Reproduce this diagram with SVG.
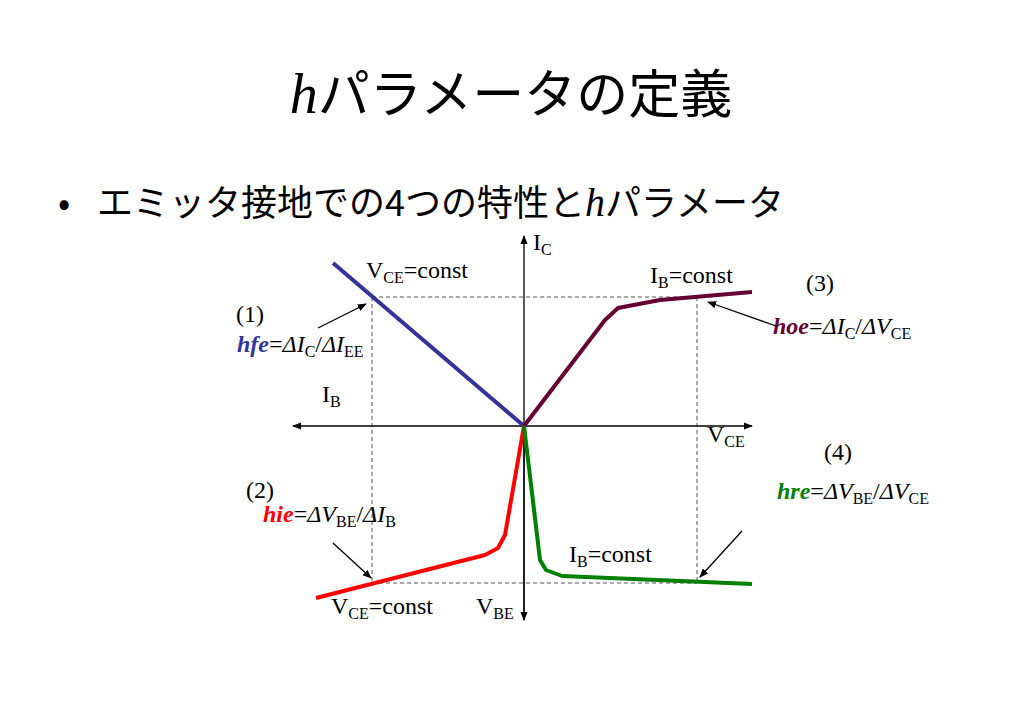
<svg xmlns="http://www.w3.org/2000/svg" width="1023" height="708" viewBox="0 0 1023 708">
<defs>
<marker id="ar" viewBox="0 0 10 10" refX="9" refY="5" markerWidth="7" markerHeight="7" orient="auto-start-reverse"><path d="M0,1 L10,5 L0,9 z" fill="#000"/></marker>
<style>
.jp{font-family:"Noto Sans CJK JP","Noto Sans",sans-serif;fill:#000}
.h{font-family:"Liberation Serif",serif;font-style:italic}
.t{font-family:"Liberation Serif",serif;font-size:24px;fill:#000}
.s{font-size:16px}
.d{stroke:#555;stroke-width:1;stroke-dasharray:4,3;fill:none}
.c{fill:none;stroke-width:4;stroke-linejoin:round}
.a{stroke:#000;stroke-width:1.3;fill:none}
</style>
</defs>
<rect width="1023" height="708" fill="#fff"/>
<g id="title"><text x="511" y="113" text-anchor="middle" class="jp" font-size="52"><tspan class="h" font-size="56">h</tspan>パラメータの定義</text></g>
<g id="bullet"><text x="58" y="216" class="jp" font-size="36">•</text><text x="97" y="216" class="jp" font-size="36">エミッタ接地での4つの特性と<tspan class="h" font-size="40">h</tspan>パラメータ</text></g>
<g id="guides">
<path class="d" d="M372,297 H700 M372,297 V583 M697,297 V583 M372,583 H697"/>
</g>
<g id="connectors">
<line class="a" x1="524" y1="620" x2="524" y2="236" marker-end="url(#ar)"/>
<line class="a" x1="524" y1="426" x2="524" y2="620" marker-end="url(#ar)"/>
<line class="a" x1="293" y1="426" x2="752" y2="426" marker-start="url(#ar)" marker-end="url(#ar)"/>
<line class="a" x1="318" y1="328" x2="366" y2="304" marker-end="url(#ar)"/>
<line class="a" x1="776" y1="326" x2="708" y2="302" marker-end="url(#ar)"/>
<line class="a" x1="333" y1="543" x2="371" y2="578" marker-end="url(#ar)"/>
<line class="a" x1="742" y1="531" x2="700" y2="577" marker-end="url(#ar)"/>
</g>
<g id="curves">
<polyline class="c" stroke="#333399" points="333,263 524,426"/>
<polyline class="c" stroke="#660033" points="524,426 605,320 618,308 660,300 752,292"/>
<polyline class="c" stroke="#ff0000" points="316,598 485,555 498,548 505,535 524,426"/>
<polyline class="c" stroke="#008000" points="524,426 540,560 546,570 562,576 752,584"/>
</g>
<g id="labels">
<text class="t" x="533" y="250">I<tspan class="s" dy="5">C</tspan></text>
<text class="t" x="366" y="278">V<tspan class="s" dy="5">CE</tspan><tspan dy="-5">=const</tspan></text>
<text class="t" x="650" y="283">I<tspan class="s" dy="5">B</tspan><tspan dy="-5">=const</tspan></text>
<text class="t" x="806" y="291">(3)</text>
<text class="t" x="236" y="322">(1)</text>
<text class="t" x="237" y="352"><tspan fill="#333399" font-weight="bold" font-style="italic">hfe</tspan>=<tspan font-style="italic">ΔI</tspan><tspan class="s" dy="5">C</tspan><tspan dy="-5">/</tspan><tspan font-style="italic">ΔI</tspan><tspan class="s" dy="5">EE</tspan></text>
<text class="t" x="773" y="334"><tspan fill="#660033" font-weight="bold" font-style="italic">hoe</tspan>=<tspan font-style="italic">ΔI</tspan><tspan class="s" dy="5">C</tspan><tspan dy="-5">/</tspan><tspan font-style="italic">ΔV</tspan><tspan class="s" dy="5">CE</tspan></text>
<text class="t" x="322" y="402">I<tspan class="s" dy="5">B</tspan></text>
<text class="t" x="707" y="442">V<tspan class="s" dy="5">CE</tspan></text>
<text class="t" x="824" y="460">(4)</text>
<text class="t" x="246" y="498">(2)</text>
<text class="t" x="777" y="499"><tspan fill="#008000" font-weight="bold" font-style="italic">hre</tspan>=<tspan font-style="italic">ΔV</tspan><tspan class="s" dy="5">BE</tspan><tspan dy="-5">/</tspan><tspan font-style="italic">ΔV</tspan><tspan class="s" dy="5">CE</tspan></text>
<text class="t" x="263" y="522"><tspan fill="#ff0000" font-weight="bold" font-style="italic">hie</tspan>=<tspan font-style="italic">ΔV</tspan><tspan class="s" dy="5">BE</tspan><tspan dy="-5">/</tspan><tspan font-style="italic">ΔI</tspan><tspan class="s" dy="5">B</tspan></text>
<text class="t" x="569" y="562">I<tspan class="s" dy="5">B</tspan><tspan dy="-5">=const</tspan></text>
<text class="t" x="331" y="614">V<tspan class="s" dy="5">CE</tspan><tspan dy="-5">=const</tspan></text>
<text class="t" x="476" y="614">V<tspan class="s" dy="5">BE</tspan></text>
</g>
</svg>
